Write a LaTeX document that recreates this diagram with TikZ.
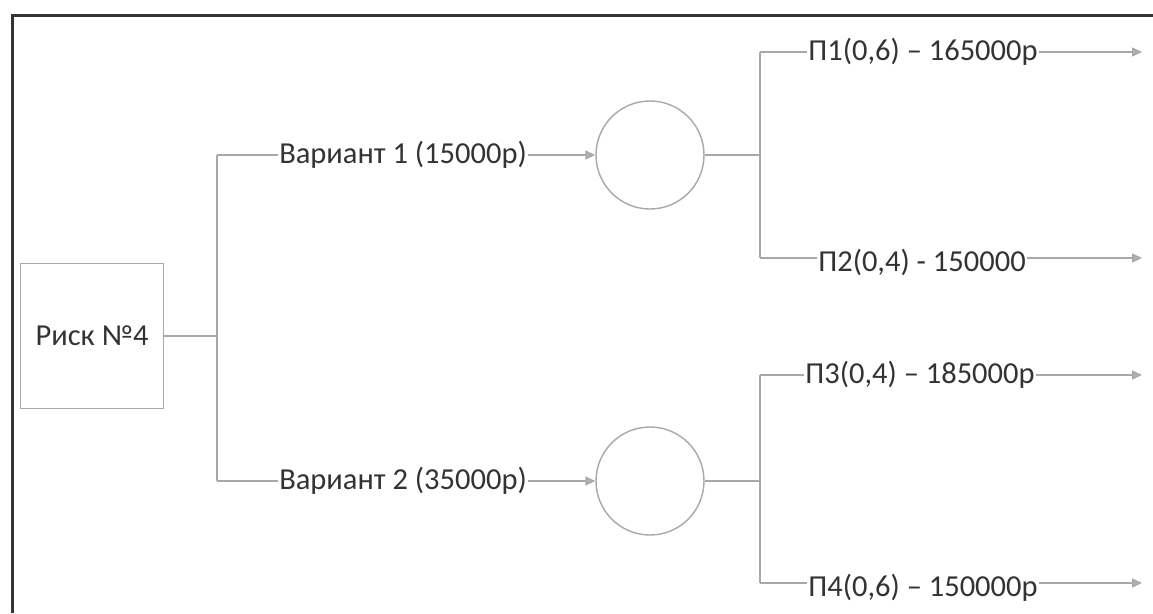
\documentclass[tikz,border=0pt]{standalone}
\usepackage{fontspec}
\setmainfont{Carlito}
\usetikzlibrary{arrows.meta}
\definecolor{linegray}{HTML}{A8A8A8}
\definecolor{textgray}{HTML}{333333}
\definecolor{framegray}{HTML}{333333}
\begin{document}
\begin{tikzpicture}[x=1pt,y=-1pt,
  conn/.style={draw=linegray,line width=1.4pt},
  arr/.style={conn,-{Triangle[length=10pt,width=9pt,fill=linegray!90]}},
  lbl/.style={text=textgray,font=\fontsize{30.5}{36}\selectfont,inner sep=1pt,fill=white},
  chance/.style={circle,draw=linegray,line width=1.4pt,minimum size=108pt,inner sep=0pt},
  riskbox/.style={rectangle,draw=linegray,line width=1.4pt,minimum width=143pt,minimum height=145pt,text=textgray,font=\fontsize{30.5}{36}\selectfont}]
\useasboundingbox (0,0) rectangle (1153,613);
\fill[white] (0,0) rectangle (1153,613);
% frame
\coordinate (fbl) at (12,613);
\coordinate (ftl) at (12,15);
\coordinate (ftr) at (1153,15);
\draw[framegray,line width=3pt] (fbl) -- (ftl) -- (ftr);
% nodes
\node[riskbox] (risk) at (92,336) {Риск №4};
\coordinate (j0) at (217,336);
\coordinate (j0t) at (217,155);
\coordinate (j0b) at (217,481);
\node[lbl] (v1) at (403,155) {Вариант 1 (15000р)};
\node[lbl] (v2) at (403,481) {Вариант 2 (35000р)};
\node[chance] (c1) at (650,155) {};
\node[chance] (c2) at (650,481) {};
\coordinate (j1) at (760,155);
\coordinate (j1t) at (760,52);
\coordinate (j1b) at (760,258);
\coordinate (j2) at (760,481);
\coordinate (j2t) at (760,375);
\coordinate (j2b) at (760,583);
\node[lbl] (p1) at (923,52) {П1(0,6) – 165000р};
\node[lbl] (p2) at (922,262) {П2(0,4) - 150000};
\node[lbl] (p3) at (920,375) {П3(0,4) – 185000р};
\node[lbl] (p4) at (923,588) {П4(0,6) – 150000р};
\coordinate (e1) at (1142,52);
\coordinate (e2) at (1142,258);
\coordinate (e3) at (1142,375);
\coordinate (e4) at (1142,583);
% connectors
\draw[conn] (risk.east) -- (j0);
\draw[conn] (j0t) -- (j0b);
\draw[conn] (j0t) -- (v1.west);
\draw[conn] (j0b) -- (v2.west);
\draw[arr] (v1.east) -- (c1.west);
\draw[arr] (v2.east) -- (c2.west);
\draw[conn] (c1.east) -- (j1);
\draw[conn] (c2.east) -- (j2);
\draw[conn] (j1t) -- (j1b);
\draw[conn] (j2t) -- (j2b);
\draw[conn] (j1t) -- (j1t -| p1.west);
\draw[conn] (j1b) -- (j1b -| p2.west);
\draw[conn] (j2t) -- (j2t -| p3.west);
\draw[conn] (j2b) -- (j2b -| p4.west);
\draw[arr] (p1.east |- e1) -- (e1);
\draw[arr] (p2.east |- e2) -- (e2);
\draw[arr] (p3.east |- e3) -- (e3);
\draw[arr] (p4.east |- e4) -- (e4);
\end{tikzpicture}
\end{document}
